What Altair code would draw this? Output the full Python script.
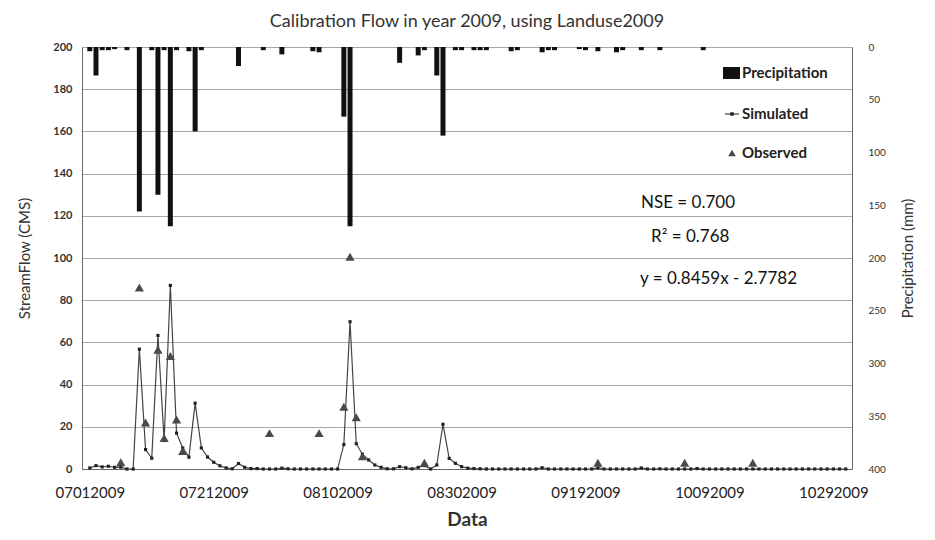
import altair as alt
import pandas as pd

# ---- data ----
start_date = "2009-07-01"
sim_flow = [0.5, 1.6, 1.0, 1.3, 0.8, 0.9, 0.0, 0.0, 56.8, 9.2,
            5.1, 63.3, 13.5, 87.0, 17.0, 10.0, 5.6, 31.2, 10.0, 5.7,
            3.2, 1.5, 0.5, 0.1, 2.6, 0.8, 0.2, 0.2, 0.0, 0.0,
            0.0, 0.4, 0.1, 0.0, 0.0, 0.0, 0.0, 0.0, 0.0, 0.0,
            0.0, 11.6, 69.8, 12.0, 7.0, 4.3, 1.9, 0.8, 0.1, 0.1,
            1.1, 0.6, 0.1, 0.8, 1.6, 0.0, 1.9, 21.2, 5.0, 2.7,
            1.1, 0.4, 0.2, 0.1, 0.0, 0.0, 0.0, 0.0, 0.0, 0.0,
            0.0, 0.0, 0.0, 0.6, 0.0, 0.0, 0.0, 0.0, 0.0, 0.0,
            0.0, 0.0, 0.6, 0.0, 0.0, 0.0, 0.0, 0.0, 0.0, 0.5,
            0.0, 0.0, 0.1, 0.0, 0.0, 0.0, 0.0, 0.0, 0.2, 0.0,
            0.0, 0.0, 0.0, 0.0, 0.0, 0.0, 0.0, 0.0, 0.0, 0.0,
            0.0, 0.0, 0.0, 0.0, 0.0, 0.0, 0.0, 0.0, 0.0, 0.0,
            0.0, 0.0, 0.0]

obs_day = [5, 8, 9, 11, 12, 13, 14, 15, 29, 37, 41, 42, 43, 44, 54, 82, 96, 107]
obs_flow = [3.2, 86, 22, 56.5, 14.7, 53.5, 23.5, 8.5, 17, 17, 29.5, 100.6, 24.5, 6, 3, 3, 3, 3]

precip_day = [0, 1, 2, 3, 4, 6, 8, 10, 11, 12, 13, 14, 16, 17, 18, 24, 28, 31, 36, 37,
              41, 42, 50, 53, 54, 56, 57, 59, 60, 62, 63, 64, 68, 69, 73, 74, 75, 79, 80, 82,
              85, 86, 89, 92, 99]
precip_mm = [4, 27, 3, 3, 2, 3, 156, 3, 140, 3, 170, 3, 4, 80, 3, 18, 3, 7, 4, 5,
             66, 170, 15, 8, 3, 27, 84, 3, 3, 3, 3, 3, 4, 3, 5, 3, 3, 2, 3, 4,
             5, 3, 3, 3, 3]

x_tick_days = [0, 20, 40, 60, 80, 100, 120]
flow_ticks = list(range(0, 201, 20))
precip_ticks = list(range(0, 401, 50))

stats_lines = ["NSE = 0.700", "R\u00b2 = 0.768", "y = 0.8459x - 2.7782"]
legend_labels = ["Precipitation", "Simulated", "Observed"]

# ---- tables ----
dates = pd.date_range(start_date, periods=len(sim_flow))
sim_df = pd.DataFrame({"day": range(len(sim_flow)), "date": dates.strftime("%Y-%m-%d"), "flow": sim_flow})
obs_df = pd.DataFrame({"day": obs_day, "flow": obs_flow})
pr_df = pd.DataFrame({"day": precip_day, "precip": precip_mm})
one = pd.DataFrame({"k": [0]})

FONT = "Lato"
xscale = alt.Scale(domain=[-0.45, 122.2], nice=False, zero=False)
label_expr = "utcFormat(utc(2009, 6, 1 + datum.value), '%m%d%Y')"

x_axis = alt.Axis(values=x_tick_days, labelExpr=label_expr, title="Data", grid=False,
                  tickSize=0, labelPadding=16, labelFontSize=15, labelColor="#222",
                  labelFont=FONT, titleFont=FONT, titleFontSize=19, titleFontWeight="bold",
                  titleColor="#333", titlePadding=10, domainColor="#666", labelFlush=False)

yflow = alt.Scale(domain=[0, 200], nice=False)
yleft_axis = alt.Axis(values=flow_ticks, title="StreamFlow (CMS)", grid=True, gridColor="#a8a8a8",
                      gridWidth=1, domainColor="#666", tickSize=0, labelPadding=10,
                      labelFontSize=11, labelFontWeight="bold", labelColor="#333", labelFont=FONT,
                      titleFont=FONT, titleFontSize=15, titleFontWeight="normal", titleColor="#333",
                      titlePadding=20)

X = alt.X("day:Q", scale=xscale, axis=x_axis)
YF = alt.Y("flow:Q", scale=yflow, axis=yleft_axis)

bars = alt.Chart(pr_df).mark_bar(size=5, color="#111").encode(
    x=X,
    y=alt.Y("precip:Q", scale=alt.Scale(domain=[0, 400], reverse=True, nice=False),
            axis=alt.Axis(orient="right", values=precip_ticks, title="Precipitation (mm)", grid=False,
                          tickSize=0, labelPadding=16, labelFontSize=10, labelColor="#333",
                          labelFont=FONT, domainColor="#666", titleFont=FONT, titleFontSize=15,
                          titleFontWeight="normal", titleColor="#333", titleAngle=270,
                          titlePadding=30)),
)

line = alt.Chart(sim_df).mark_line(color="#444", strokeWidth=1.2).encode(x=X, y=YF)
pts = alt.Chart(sim_df).mark_point(shape="square", filled=True, size=10, color="#222", opacity=1).encode(x=X, y=YF)
obs = alt.Chart(obs_df).mark_point(shape="triangle-up", filled=True, size=85, color="#4a4a4a", opacity=1).encode(x=X, y=YF)


def label(txt, x, y, size, weight="normal", color="#222"):
    return alt.Chart(one).mark_text(text=txt, align="left", baseline="middle", font=FONT,
                                    fontSize=size, fontWeight=weight, color=color).encode(
        x=alt.value(x), y=alt.value(y))


leg_sq = alt.Chart(one).mark_rect(color="#111").encode(
    x=alt.value(641), x2=alt.value(658), y=alt.value(20), y2=alt.value(32))
leg_ln = alt.Chart(one).mark_rule(color="#444", strokeWidth=1.2).encode(
    x=alt.value(643), x2=alt.value(657), y=alt.value(67))
leg_pt = alt.Chart(one).mark_point(shape="square", filled=True, size=12, color="#222", opacity=1).encode(
    x=alt.value(650), y=alt.value(67))
leg_tri = alt.Chart(one).mark_point(shape="triangle-up", filled=True, size=60, color="#4a4a4a", opacity=1).encode(
    x=alt.value(650), y=alt.value(106))

texts = [
    label(legend_labels[0], 660, 26, 15, "bold"),
    label(legend_labels[1], 660, 67, 15, "bold"),
    label(legend_labels[2], 660, 106, 15, "bold"),
    label(stats_lines[0], 559, 156, 17, "normal", "#111"),
    label(stats_lines[1], 569, 190, 17, "normal", "#111"),
    label(stats_lines[2], 558, 232, 17, "normal", "#111"),
]

left_group = alt.layer(line, pts, obs)
extras = alt.layer(leg_sq, leg_ln, leg_pt, leg_tri, *texts)

chart = alt.layer(bars, left_group, extras).resolve_scale(y="independent").properties(
    width=770, height=422,
    autosize=alt.AutoSizeParams(type="none"),
    padding={"left": 74, "top": 39, "right": 75, "bottom": 63},
    title=alt.TitleParams("Calibration Flow in year 2009, using Landuse2009", font=FONT, fontSize=18,
                          fontWeight="normal", color="#333", anchor="middle", offset=10),
).configure_view(stroke=None).configure(background="white")

chart.save("out.html", embed_options={"renderer": "svg", "actions": False})
